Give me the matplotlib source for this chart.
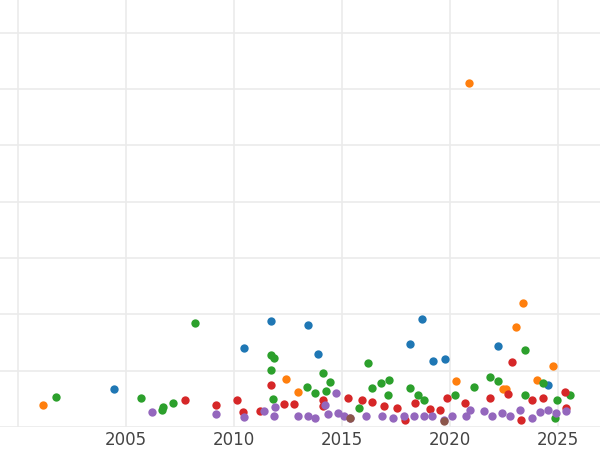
import matplotlib
matplotlib.use("Agg")
import matplotlib.pyplot as plt

blue_x = [2004.44, 2010.46, 2011.71, 2013.43, 2013.89, 2018.15, 2018.70, 2019.21, 2019.77, 2022.22, 2024.54]
blue_y = [0.68, 1.41, 1.89, 1.82, 1.30, 1.48, 1.91, 1.18, 1.20, 1.43, 0.75]

orange_x = [2001.16, 2012.41, 2012.96, 2020.88, 2020.28, 2023.06, 2023.38, 2022.59, 2024.03, 2024.77, 2022.45]
orange_y = [0.39, 0.86, 0.63, 6.11, 0.82, 1.77, 2.21, 0.68, 0.84, 1.09, 0.68]

green_x = [2001.76, 2008.19, 2005.69, 2006.71, 2006.67, 2007.18, 2011.71, 2011.85, 2011.71, 2011.80,
           2013.38, 2013.75, 2014.12, 2014.44, 2014.26, 2016.20, 2016.39, 2016.80, 2017.18, 2017.13,
           2018.15, 2018.50, 2018.80, 2020.23, 2021.10, 2021.85, 2022.20, 2023.47, 2023.47, 2024.30,
           2024.95, 2025.56, 2024.86, 2015.80]
green_y = [0.54, 1.84, 0.52, 0.36, 0.30, 0.43, 1.28, 1.23, 1.02, 0.50,
           0.71, 0.60, 0.96, 0.80, 0.64, 1.14, 0.70, 0.79, 0.84, 0.57,
           0.70, 0.57, 0.48, 0.57, 0.71, 0.88, 0.82, 0.57, 1.36, 0.79,
           0.48, 0.57, 0.16, 0.34]

red_x = [2007.73, 2009.17, 2010.14, 2010.42, 2011.20, 2011.71, 2012.30, 2012.78, 2014.10, 2014.10,
         2015.28, 2015.93, 2016.39, 2016.94, 2017.55, 2018.38, 2019.07, 2019.54, 2019.86, 2020.69,
         2021.85, 2022.69, 2022.87, 2023.29, 2023.80, 2024.30, 2025.32, 2025.37, 2017.90]
red_y = [0.48, 0.39, 0.48, 0.27, 0.29, 0.75, 0.41, 0.41, 0.37, 0.48,
         0.52, 0.48, 0.45, 0.38, 0.34, 0.43, 0.32, 0.30, 0.52, 0.43,
         0.52, 0.59, 1.16, 0.13, 0.48, 0.52, 0.63, 0.34, 0.13]

purple_x = [2006.20, 2009.17, 2010.46, 2011.39, 2011.85, 2011.90, 2012.96, 2013.43, 2013.75, 2014.21,
            2014.35, 2014.72, 2014.81, 2015.09, 2015.37, 2016.11, 2016.85, 2017.36, 2017.87, 2018.33,
            2018.80, 2019.17, 2019.72, 2020.09, 2020.74, 2020.93, 2021.57, 2021.94, 2022.41, 2022.78,
            2023.24, 2023.80, 2024.17, 2024.54, 2024.91, 2025.37]
purple_y = [0.27, 0.23, 0.18, 0.29, 0.20, 0.36, 0.20, 0.20, 0.16, 0.39,
            0.23, 0.61, 0.25, 0.20, 0.16, 0.20, 0.20, 0.16, 0.20, 0.20,
            0.20, 0.20, 0.13, 0.20, 0.20, 0.30, 0.29, 0.20, 0.25, 0.20,
            0.30, 0.16, 0.27, 0.30, 0.25, 0.29]

brown_x = [2015.37, 2019.72]
brown_y = [0.16, 0.11]

series = [(blue_x, blue_y, "#1f77b4"), (orange_x, orange_y, "#ff7f0e"),
          (green_x, green_y, "#2ca02c"), (red_x, red_y, "#d62728"),
          (purple_x, purple_y, "#9467bd"), (brown_x, brown_y, "#8c564b")]

fig = plt.figure(figsize=(6, 4.5), dpi=100)
ax = fig.add_axes([0, 0.051, 1, 0.949])
for xs, ys, c in series:
    ax.scatter(xs, ys, s=36, color=c, linewidths=0, zorder=3)

ax.set_xlim(1999.17, 2026.94)
ax.set_ylim(0, 7.58)
ax.set_xticks([2000, 2005, 2010, 2015, 2020, 2025])
ax.set_xticklabels(["", "2005", "2010", "2015", "2020", "2025"])
ax.set_yticks(range(0, 8))
ax.set_yticklabels([])
ax.grid(True, color="#ebebeb", linewidth=1.2, zorder=0)
for s in ax.spines.values():
    s.set_visible(False)
ax.tick_params(length=0, labelsize=12, labelcolor="#444444", pad=3)

fig.savefig("out.png")
